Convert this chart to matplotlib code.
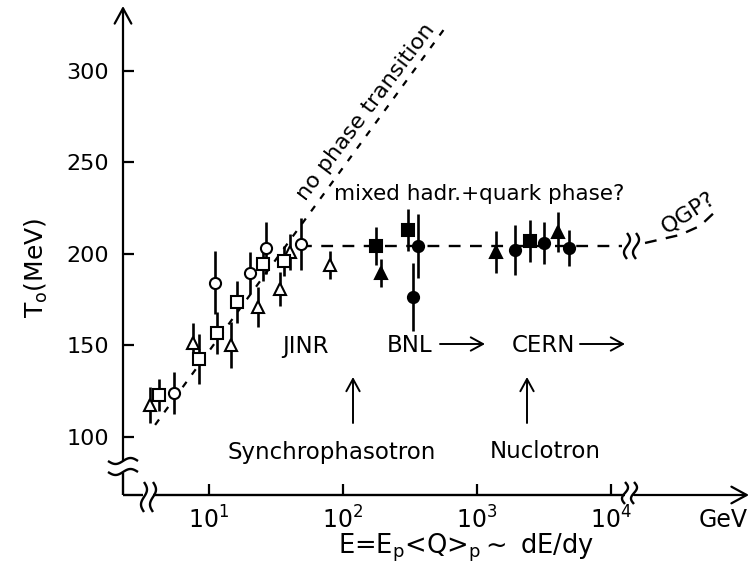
import numpy as np
import matplotlib
matplotlib.use("Agg")
import matplotlib.pyplot as plt
from matplotlib.patches import FancyArrowPatch
from matplotlib.lines import Line2D
from matplotlib.ticker import NullLocator

W, H = 755, 571

# ------------------------------------------------------------------
# data  (E in GeV, T0 in MeV)
# ------------------------------------------------------------------
open_tri_E   = [3.63, 7.6, 14.6, 23.2, 33.9, 40.2, 80]
open_tri_T   = [117.5, 151.4, 150.3, 171, 180.9, 201.1, 194]
open_tri_err = [10, 11, 12.5, 11, 9.5, 10, 7.5]

open_sq_E   = [4.24, 8.42, 11.5, 16.2, 25.3, 36.3]
open_sq_T   = [123, 142.6, 156.8, 173.8, 194.5, 196.2]
open_sq_err = [8.7, 13.7, 11.5, 11.7, 9.3, 8.2]

open_ci_E   = [5.48, 11.1, 20.2, 26.6, 48.6]
open_ci_T   = [124, 184.2, 189.6, 203.3, 205.5]
open_ci_err = [11.5, 17.2, 11.7, 14, 14.2]

full_sq_E   = [176, 305, 2486]
full_sq_T   = [204.4, 213.1, 207.1]
full_sq_err = [10.5, 11.5, 11.7]

full_tri_E   = [192, 1386, 4018]
full_tri_T   = [189.6, 201.1, 212]
full_tri_err = [7.5, 11.5, 11]

full_ci_E   = [363, 333, 1923, 3162, 4864]
full_ci_T   = [204.4, 176.5, 202.2, 206, 203.3]
full_ci_err = [17.5, 18.5, 13.6, 11.7, 10]

# guide lines
rise_E    = [3.96, 577]
rise_T    = [106.6, 323.5]
plateau_E = [47.7, 12080]
plateau_T = [204.4, 204.4]
qgp_E     = [17950, 32700, 46150, 59700]
qgp_T     = [206, 210.4, 215.3, 223]

y_ticks  = [100, 150, 200, 250, 300]
x_ticks  = [10, 100, 1000, 10000]
x_labels = [r"$10^{1}$", r"$10^{2}$", r"$10^{3}$", r"$10^{4}$"]


def fp(x, y):
    """image pixel -> figure fraction"""
    return x / W, 1 - y / H


def fig_line(xs, ys, lw=1.7):
    fx = [x / W for x in xs]
    fy = [1 - y / H for y in ys]
    fig.add_artist(Line2D(fx, fy, transform=fig.transFigure, color="black",
                          lw=lw, solid_capstyle="butt"))


def fig_arrow(p0, p1, lw=1.6, scale=20):
    fig.add_artist(FancyArrowPatch(fp(*p0), fp(*p1), transform=fig.transFigure,
                                   arrowstyle="->,head_length=0.55,head_width=0.3",
                                   mutation_scale=scale, lw=lw, color="black",
                                   shrinkA=0, shrinkB=0))


def squiggle(cx, cy, h=13, a=3, vertical=True):
    t = np.linspace(-1, 1, 50)
    if vertical:
        fig_line(cx - a * np.sin(np.pi * t), cy + h * t)
    else:
        fig_line(cx + h * t, cy - a * np.sin(np.pi * t))


fig = plt.figure(figsize=(W / 100, H / 100), dpi=100)
plt.rcParams["font.family"] = ["DejaVu Sans"]

ax = fig.add_axes([123 / W, 1 - 495 / H, (748 - 123) / W, (495 - 8) / H])
ax.set_xscale("log")
ax.set_xlim(2.281, 105300)
ax.set_ylim(68.3, 334.4)
for s in ax.spines.values():
    s.set_visible(False)
ax.patch.set_visible(False)

ax.set_yticks(y_ticks)
ax.set_xticks(x_ticks, labels=x_labels)
ax.xaxis.set_minor_locator(NullLocator())
ax.tick_params(axis="both", direction="in", length=8, width=1.6, labelsize=16)
ax.tick_params(axis="y", pad=10)
ax.tick_params(axis="x", pad=8, labelsize=17)

# guide lines
ax.plot(rise_E, rise_T, color="black", lw=1.6, ls=(0, (3, 4)), clip_on=False)
ax.plot(plateau_E, plateau_T, color="black", lw=1.7, ls=(0, (5, 4)), clip_on=False)
ax.plot(qgp_E, qgp_T, color="black", lw=1.7, ls=(0, (5, 4)), clip_on=False)

# data
common = dict(ms=8, mec="black", mew=1.5, ecolor="black", elinewidth=1.9,
              capsize=0, ls="none", clip_on=False, zorder=4)
ax.errorbar(open_tri_E, open_tri_T, yerr=open_tri_err, fmt="^", mfc="white", **common)
ax.errorbar(open_sq_E, open_sq_T, yerr=open_sq_err, fmt="s", mfc="white", **common)
ax.errorbar(open_ci_E, open_ci_T, yerr=open_ci_err, fmt="o", mfc="white", **common)
ax.errorbar(full_sq_E, full_sq_T, yerr=full_sq_err, fmt="s", mfc="black", **common)
ax.errorbar(full_tri_E, full_tri_T, yerr=full_tri_err, fmt="^", mfc="black", **common)
ax.errorbar(full_ci_E, full_ci_T, yerr=full_ci_err, fmt="o", mfc="black", **common)

# axes drawn by hand, with breaks
fig_arrow((123, 460), (123, 6))
fig_line([123, 123], [473, 495])
squiggle(123, 461, h=15, a=3, vertical=False)
squiggle(123, 472, h=15, a=3, vertical=False)
fig_line([123, 143], [495, 495])
fig_line([153, 625], [495, 495])
fig_arrow((634, 495), (749, 495))
squiggle(144, 497, h=15)
squiggle(153, 497, h=15)
squiggle(625, 493, h=11)
squiggle(634, 493, h=11)
# break on plateau line
squiggle(627, 246, h=13)
squiggle(636, 246, h=13)

# text
fig.text(*fp(366, 112), "no phase transition", rotation=53, fontsize=16,
         ha="center", va="center", rotation_mode="anchor")
fig.text(*fp(479, 200), "mixed hadr.+quark phase?", fontsize=15.5,
         ha="center", va="baseline")
fig.text(*fp(688, 213), "QGP?", rotation=33, fontsize=16,
         ha="center", va="center", rotation_mode="anchor")
fig.text(*fp(305, 346), "JINR", fontsize=16.5, ha="center", va="center")
fig.text(*fp(410, 346), "BNL", fontsize=16.5, ha="center", va="center")
fig.text(*fp(543, 346), "CERN", fontsize=16.5, ha="center", va="center")
fig.text(*fp(332, 452), "Synchrophasotron", fontsize=16.5, ha="center", va="center")
fig.text(*fp(545, 452), "Nuclotron", fontsize=16.5, ha="center", va="center")
fig_arrow((440, 344), (485, 344), lw=1.4, scale=16)
fig_arrow((580, 344), (625, 344), lw=1.4, scale=16)
fig_arrow((353, 423), (353, 377), lw=1.4, scale=16)
fig_arrow((527, 423), (527, 377), lw=1.4, scale=16)

fig.text(*fp(748, 527), "GeV", fontsize=17, ha="right", va="baseline")
fig.text(*fp(36, 268), r"T$_\mathrm{o}$(MeV)", rotation=90, fontsize=18,
         ha="center", va="center")
fig.text(*fp(466, 548), r"E=E$_\mathrm{p}$<Q>$_\mathrm{p}$$\sim$ dE/dy",
         fontsize=18.5, ha="center", va="center")

fig.savefig("out.png", dpi=100, facecolor="white")
